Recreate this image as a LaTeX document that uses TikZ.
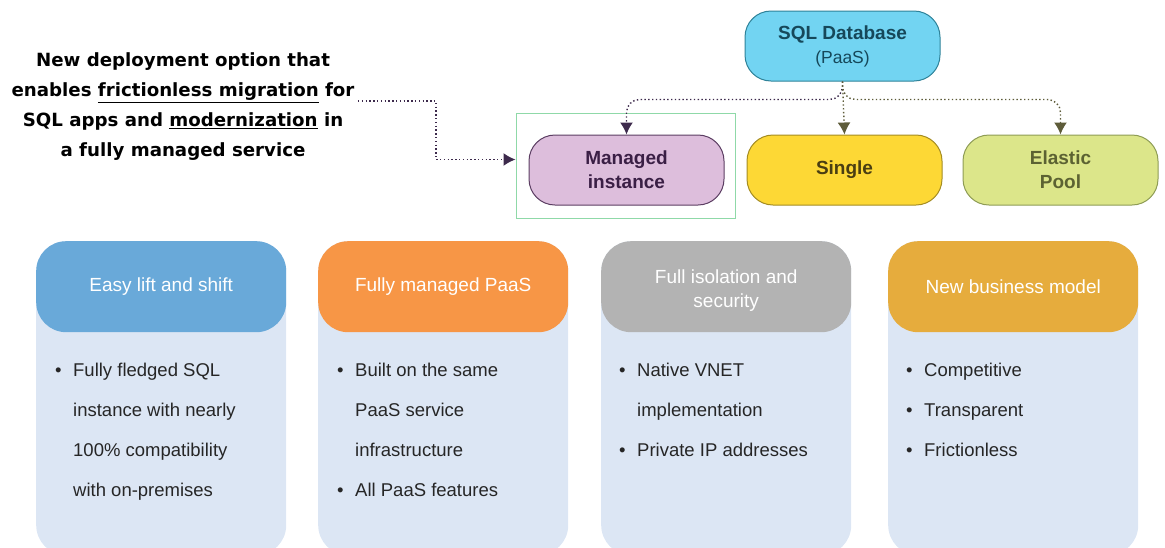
\documentclass[tikz,border=0pt]{standalone}
\usepackage{fontspec}
\setmainfont{Liberation Sans}
\newfontfamily\notefont{DejaVu Sans}
\usetikzlibrary{positioning,arrows.meta}
\definecolor{sqlfill}{HTML}{72D4F2}
\definecolor{sqldraw}{HTML}{2E8299}
\definecolor{sqltext}{HTML}{16485A}
\definecolor{mifill}{HTML}{DDBEDC}
\definecolor{midraw}{HTML}{5B3D62}
\definecolor{mitext}{HTML}{3A1F45}
\definecolor{sgfill}{HTML}{FDD835}
\definecolor{sgdraw}{HTML}{A48C22}
\definecolor{sgtext}{HTML}{4A3E12}
\definecolor{epfill}{HTML}{DCE68A}
\definecolor{epdraw}{HTML}{8E9C55}
\definecolor{eptext}{HTML}{5C6232}
\definecolor{boxgreen}{HTML}{8FD9A8}
\definecolor{linepurple}{HTML}{3D2A4C}
\definecolor{lineolive}{HTML}{5E5C3A}
\definecolor{cardbg}{HTML}{DCE6F4}
\definecolor{headblue}{HTML}{69A9D9}
\definecolor{headorange}{HTML}{F79646}
\definecolor{headgray}{HTML}{B3B3B3}
\definecolor{headgold}{HTML}{E6AC3D}
\tikzset{
  pill/.style={rounded corners=26pt, line width=1pt, minimum width=195pt, minimum height=70pt,
    align=center, font=\bfseries\fontsize{19}{24}\selectfont},
  conn/.style={dash pattern=on 1.4pt off 2.4pt, line width=1.4pt, rounded corners=13pt,
    -{Latex[length=12pt,width=13pt]}},
  cardbody/.style={fill=cardbg, rounded corners=30pt, minimum width=250pt, minimum height=314pt, anchor=north west},
  cardhead/.style={rounded corners=30pt, minimum width=250pt, minimum height=91pt, anchor=north west,
    text=white, align=center, font=\fontsize{19}{24}\selectfont},
  cardlist/.style={anchor=north west, inner sep=0pt, align=left, text=black!85, font=\fontsize{18.5}{40}\selectfont}
}
\newcommand{\bul}{\makebox[18pt][l]{\textbullet}}
\newcommand{\ind}{\hspace*{18pt}}
\begin{document}
\begin{tikzpicture}[x=1pt,y=-1pt]
\useasboundingbox (0,0) rectangle (1165,547);
% top part
\node[pill, fill=sqlfill, draw=sqldraw, text=sqltext] (sql) at (842.5,46) {SQL Database\\{\mdseries\fontsize{17.5}{24}\selectfont(PaaS)}};
\node[pill, fill=mifill, draw=midraw, text=mitext] (managed) at (626.5,170) {Managed\\instance};
\node[pill, fill=sgfill, draw=sgdraw, text=sgtext] (single) at (844.5,170) {Single};
\node[pill, fill=epfill, draw=epdraw, text=eptext] (elastic) at (1060.5,170) {Elastic\\Pool};
\node[draw=boxgreen, line width=1pt, minimum width=219pt, minimum height=105pt] (mibox) at (625.5,165.5) {};
\draw[conn, linepurple] (sql.south) -- ++(0,18) -| (managed.north);
\draw[conn, lineolive] (sql.south) -- (single.north);
\draw[conn, lineolive] (sql.south) -- ++(0,18) -| (elastic.north);
% note on the left
\node[align=center, font=\notefont\bfseries\fontsize{18.2}{30}\selectfont] (note) at (183,107)
  {New deployment option that\\enables \underline{frictionless migration} for\\SQL apps and \underline{modernization} in\\a fully managed service};
\draw[conn, linepurple, rounded corners=0pt] ([yshift=6pt]note.east) -- ++(78,0) |- ([yshift=6pt]mibox.west);
% cards
\node[cardbody] (body1) at (36,241) {};
\node[cardhead, fill=headblue] (head1) at (36,241) {Easy lift and shift};
\node[cardlist] (list1) at (55,363) {\bul Fully fledged SQL\\\ind instance with nearly\\\ind 100\% compatibility\\\ind with on-premises};
\node[cardbody] (body2) at (318,241) {};
\node[cardhead, fill=headorange] (head2) at (318,241) {Fully managed PaaS};
\node[cardlist] (list2) at (337,363) {\bul Built on the same\\\ind PaaS service\\\ind infrastructure\\\bul All PaaS features};
\node[cardbody] (body3) at (601,241) {};
\node[cardhead, fill=headgray] (head3) at (601,241) {\raisebox{-8pt}[0pt][0pt]{\parbox{200pt}{\centering Full isolation and\\security}}};
\node[cardlist] (list3) at (619,363) {\bul Native VNET\\\ind implementation\\\bul Private IP addresses};
\node[cardbody] (body4) at (888,241) {};
\node[cardhead, fill=headgold] (head4) at (888,241) {New business model};
\node[cardlist] (list4) at (906,363) {\bul Competitive\\\bul Transparent\\\bul Frictionless};
\end{tikzpicture}
\end{document}
